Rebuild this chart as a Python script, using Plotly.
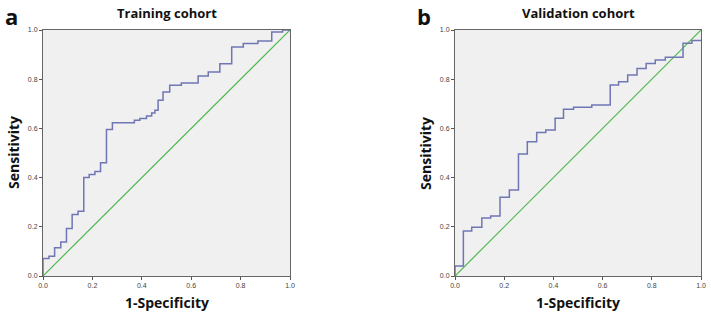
import plotly.graph_objects as go

# Training cohort ROC (1-Specificity, Sensitivity)
fpr_train = [0, 0.024, 0.047, 0.072, 0.095, 0.118, 0.142, 0.165, 0.187, 0.21, 0.233, 0.257, 0.281,
             0.37, 0.392, 0.419, 0.44, 0.453, 0.466, 0.486, 0.513, 0.56, 0.628, 0.669, 0.716,
             0.764, 0.811, 0.87, 0.926, 0.97, 1.0]
tpr_train = [0, 0.071, 0.08, 0.115, 0.138, 0.193, 0.25, 0.263, 0.40, 0.413, 0.425, 0.46, 0.596,
             0.623, 0.633, 0.64, 0.65, 0.663, 0.674, 0.714, 0.748, 0.775, 0.785, 0.813, 0.829,
             0.863, 0.931, 0.945, 0.955, 0.992, 1.0]

# Validation cohort ROC
fpr_valid = [0, 0.034, 0.068, 0.109, 0.145, 0.183, 0.221, 0.258, 0.294, 0.332, 0.369, 0.407,
             0.441, 0.482, 0.556, 0.631, 0.665, 0.702, 0.74, 0.777, 0.814, 0.855, 0.927, 0.963, 1.0]
tpr_valid = [0, 0.041, 0.183, 0.198, 0.236, 0.244, 0.32, 0.35, 0.496, 0.546, 0.583, 0.593,
             0.641, 0.678, 0.686, 0.695, 0.776, 0.79, 0.817, 0.844, 0.864, 0.878, 0.889, 0.946, 0.957]

ref_line = [0, 1]
tick_vals = [0, 0.2, 0.4, 0.6, 0.8, 1.0]
tick_text = ["0.0", "0.2", "0.4", "0.6", "0.8", "1.0"]
titles = ["Training cohort", "Validation cohort"]
panel_letters = ["a", "b"]

W, H = 711, 317
curve_color = "#6f76b3"
diag_color = "#4cb84c"

fig = go.Figure()

# panels: x domain in pixels
panels = [(43, 290), (455, 701)]
y_top, y_bot = 30, 276

for i, (fx, ty) in enumerate([(fpr_train, tpr_train), (fpr_valid, tpr_valid)]):
    xa = "x" if i == 0 else "x2"
    ya = "y" if i == 0 else "y2"
    fig.add_trace(go.Scatter(x=ref_line, y=ref_line, mode="lines", xaxis=xa, yaxis=ya,
                             line=dict(color=diag_color, width=1.2), showlegend=False, hoverinfo="skip"))
    fig.add_trace(go.Scatter(x=fx, y=ty, mode="lines", xaxis=xa, yaxis=ya,
                             line=dict(color=curve_color, width=1.5, shape="vh"), showlegend=False))

axis_common = dict(range=[0, 1], tickvals=tick_vals, ticktext=tick_text, ticks="outside", ticklen=3,
                   tickcolor="#555", tickwidth=1, showline=True, linecolor="#666", linewidth=1,
                   mirror=True, showgrid=False, zeroline=False, automargin=False,
                   tickfont=dict(family="Liberation Sans", size=7, color="#444"))

layout = dict(width=W, height=H, margin=dict(l=0, r=0, t=0, b=0, autoexpand=False), paper_bgcolor="white",
              plot_bgcolor="#f0f0f0", showlegend=False)
for i, (x0, x1) in enumerate(panels):
    sfx = "" if i == 0 else "2"
    layout["xaxis" + sfx] = dict(axis_common, domain=[x0 / W, x1 / W], anchor="y" + sfx)
    layout["yaxis" + sfx] = dict(axis_common, domain=[1 - y_bot / H, 1 - y_top / H], anchor="x" + sfx)
fig.update_layout(**layout)

title_font = dict(family="Open Sans", size=13, color="#111")
for i, (x0, x1) in enumerate(panels):
    cx = (x0 + x1) / 2 / W
    fig.add_annotation(text="<b>" + titles[i] + "</b>", x=cx, y=1 - 13 / H, xref="paper", yref="paper",
                       showarrow=False, font=title_font, xanchor="center", yanchor="middle")
    fig.add_annotation(text="<b>1-Specificity</b>", x=cx, y=1 - 302 / H, xref="paper", yref="paper",
                       showarrow=False, font=dict(family="Open Sans", size=14, color="#111"),
                       xanchor="center", yanchor="middle")
    fig.add_annotation(text="<b>Sensitivity</b>", x=(x0 - 30) / W, y=1 - 153 / H, xref="paper", yref="paper",
                       showarrow=False, textangle=-90, font=dict(family="Open Sans", size=14, color="#111"),
                       xanchor="center", yanchor="middle")
    fig.add_annotation(text="<b>" + panel_letters[i] + "</b>", x=(x0 - 31) / W, y=1 - 16 / H,
                       xref="paper", yref="paper", showarrow=False,
                       font=dict(family="Open Sans", size=22, color="#111"), xanchor="center", yanchor="middle")

fig.write_html("out.html", config={"displayModeBar": False},
               post_script="document.body.style.margin='0';document.body.style.padding='0';document.body.style.overflow='hidden';")
